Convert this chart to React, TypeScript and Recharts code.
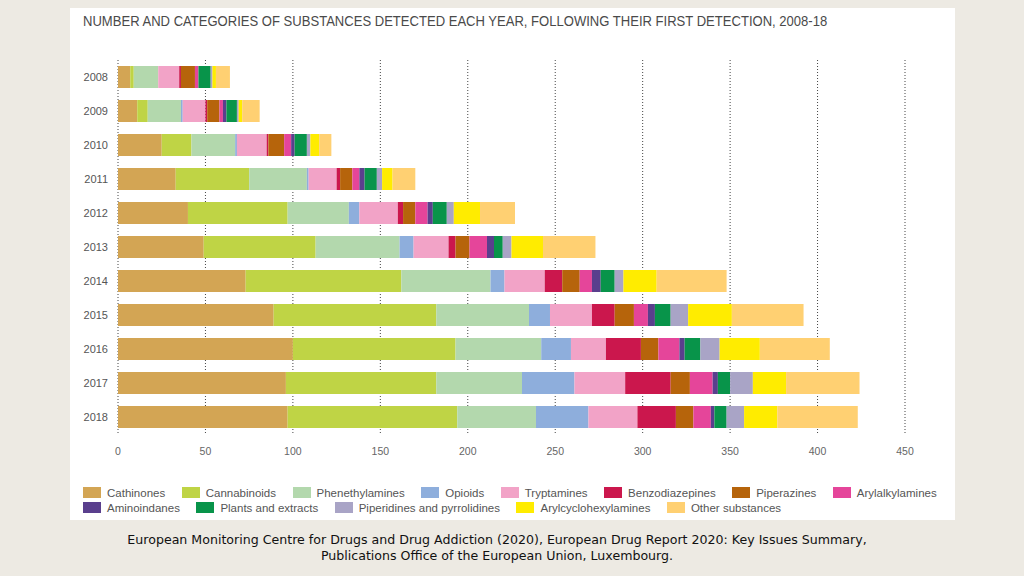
import React from "react";
import { BarChart, Bar, XAxis, YAxis, CartesianGrid } from "recharts";

const YEARS = ["2008", "2009", "2010", "2011", "2012", "2013", "2014", "2015", "2016", "2017", "2018"];

const SERIES = [
  "Cathinones",
  "Cannabinoids",
  "Phenethylamines",
  "Opioids",
  "Tryptamines",
  "Benzodiazepines",
  "Piperazines",
  "Arylalkylamines",
  "Aminoindanes",
  "Plants and extracts",
  "Piperidines and pyrrolidines",
  "Arylcyclohexylamines",
  "Other substances",
];

const COLORS = [
  "#d3a554",
  "#bfd445",
  "#b3d8ad",
  "#8eaedc",
  "#f2a3c7",
  "#cb174d",
  "#b6640b",
  "#e5459a",
  "#5a3f8d",
  "#08944a",
  "#a9a4c6",
  "#ffec00",
  "#ffd072",
];

// values per category, one entry per year (2008..2018)
const cathinones = [7, 11, 25, 33, 40, 49, 73, 89, 100, 96, 97];
const cannabinoids = [2, 6, 17, 42, 57, 64, 89, 93, 93, 86, 97];
const phenethylamines = [14, 19, 25, 33, 35, 48, 51, 53, 49, 49, 45];
const opioids = [0, 1, 1, 1, 6, 8, 8, 12, 17, 30, 30];
const tryptamines = [12, 13, 17, 16, 22, 20, 23, 24, 20, 29, 28];
const benzodiazepines = [1, 1, 1, 2, 3, 4, 10, 13, 20, 26, 22];
const piperazines = [8, 7, 9, 7, 7, 8, 10, 11, 10, 11, 10];
const arylalkylamines = [2, 2, 4, 4, 7, 10, 7, 8, 12, 13, 10];
const aminoindanes = [0, 2, 2, 3, 3, 4, 5, 4, 3, 3, 2];
const plants = [7, 6, 7, 7, 8, 5, 8, 9, 9, 7, 7];
const piperidines = [1, 1, 2, 3, 4, 5, 5, 10, 11, 13, 10];
const arylcyclohexylamines = [2, 2, 5, 6, 15, 18, 19, 25, 23, 19, 19];
const other = [8, 10, 7, 13, 20, 30, 40, 41, 40, 42, 46];

const VALUES = [
  cathinones,
  cannabinoids,
  phenethylamines,
  opioids,
  tryptamines,
  benzodiazepines,
  piperazines,
  arylalkylamines,
  aminoindanes,
  plants,
  piperidines,
  arylcyclohexylamines,
  other,
];

const X_TICKS = [0, 50, 100, 150, 200, 250, 300, 350, 400, 450];

const data = YEARS.map((year, i) => {
  const row: Record<string, string | number> = { year };
  SERIES.forEach((name, s) => {
    row[name] = VALUES[s][i];
  });
  return row;
});

const FONT = "'Liberation Sans', Arial, sans-serif";

function LegendRows() {
  const rows = [SERIES.slice(0, 8), SERIES.slice(8)];
  return (
    <div style={{ fontFamily: FONT, fontSize: 11.5, color: "#555" }}>
      {rows.map((row, r) => (
        <div key={r} style={{ display: "flex", height: 15, alignItems: "center" }}>
          {row.map((name) => {
            const idx = SERIES.indexOf(name);
            return (
              <span key={name} style={{ display: "flex", alignItems: "center", marginRight: 16.5 }}>
                <span
                  style={{
                    display: "inline-block",
                    width: 18,
                    height: 11,
                    background: COLORS[idx],
                    marginRight: 6,
                  }}
                />
                {name}
              </span>
            );
          })}
        </div>
      ))}
    </div>
  );
}

export default function App() {
  return (
    <div
      style={{
        position: "absolute",
        left: 0,
        top: 0,
        width: 1024,
        height: 576,
        background: "#edeae3",
      }}
    >
      <div
        style={{
          position: "absolute",
          left: 70,
          top: 8,
          width: 885,
          height: 512,
          background: "#ffffff",
        }}
      >
        <div
          style={{
            position: "absolute",
            left: 13,
            top: 4,
            fontFamily: FONT,
            fontSize: 15,
            color: "#4a4a4a",
            whiteSpace: "nowrap",
            transform: "scaleX(0.87)",
            transformOrigin: "left center",
          }}
        >
          NUMBER AND CATEGORIES OF SUBSTANCES DETECTED EACH YEAR, FOLLOWING THEIR FIRST DETECTION, 2008-18
        </div>
        <BarChart
          width={885}
          height={472}
          data={data}
          layout="vertical"
          margin={{ top: 52, right: 50, bottom: 16, left: 0 }}
          barCategoryGap={6}
        >
          <CartesianGrid horizontal={false} stroke="#444" strokeDasharray="1 2" />
          <XAxis
            type="number"
            domain={[0, 450]}
            ticks={X_TICKS}
            axisLine={false}
            tickLine={false}
            tick={{ fontSize: 10.5, fill: "#666", fontFamily: FONT }}
            tickMargin={8}
          />
          <YAxis
            type="category"
            dataKey="year"
            width={48}
            axisLine={false}
            tickLine={false}
            tick={{ fontSize: 11, fill: "#555", fontFamily: FONT }}
            tickMargin={4}
          />
          {SERIES.map((name, i) => (
            <Bar
              key={name}
              dataKey={name}
              stackId="a"
              fill={COLORS[i]}
              barSize={22}
              isAnimationActive={false}
            />
          ))}
        </BarChart>
        <div style={{ position: "absolute", left: 13, top: 477 }}>
          <LegendRows />
        </div>
      </div>
      <div
        style={{
          position: "absolute",
          left: -15,
          top: 532,
          width: 1024,
          textAlign: "center",
          fontFamily: "'DejaVu Sans', sans-serif",
          fontSize: 12.6,
          lineHeight: "16px",
          color: "#111",
        }}
      >
        European Monitoring Centre for Drugs and Drug Addiction (2020), European Drug Report 2020: Key Issues Summary,
        <br />
        Publications Office of the European Union, Luxembourg.
      </div>
    </div>
  );
}
